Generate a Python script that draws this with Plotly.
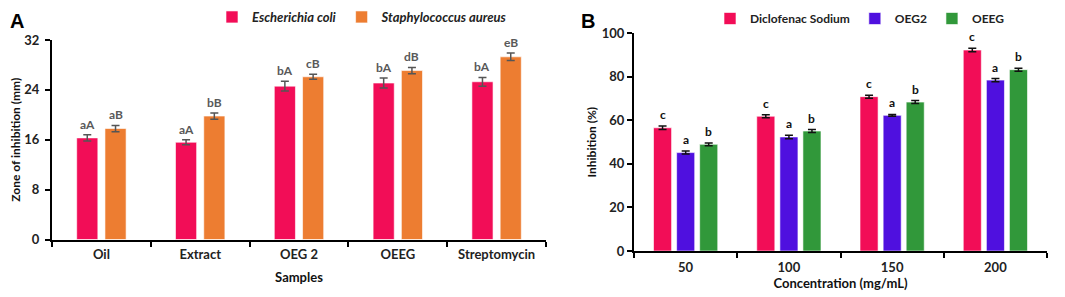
import plotly.graph_objects as go

# ---- Panel A data ----
samples = ["Oil", "Extract", "OEG 2", "OEEG", "Streptomycin"]
ecoli = [16.3, 15.6, 24.6, 25.1, 25.3]
ecoli_err = [0.5, 0.4, 0.8, 0.8, 0.7]
saureus = [17.8, 19.8, 26.1, 27.1, 29.3]
saureus_err = [0.5, 0.5, 0.4, 0.5, 0.6]
ecoli_lbl = ["aA", "aA", "bA", "bA", "bA"]
saureus_lbl = ["aB", "bB", "cB", "dB", "eB"]
a_ticks = [0, 8, 16, 24, 32]

# ---- Panel B data ----
conc = ["50", "100", "150", "200"]
diclo = [56.6, 61.9, 70.9, 92.3]
diclo_err = [0.8, 0.7, 0.7, 0.8]
oeg2 = [45.2, 52.4, 62.3, 78.5]
oeg2_err = [0.7, 0.8, 0.4, 0.7]
oeeg = [49.0, 55.1, 68.4, 83.3]
oeeg_err = [0.6, 0.7, 0.7, 0.7]
b_lbl_diclo = ["c", "c", "c", "c"]
b_lbl_oeg2 = ["a", "a", "a", "a"]
b_lbl_oeeg = ["b", "b", "b", "b"]
b_ticks = [0, 20, 40, 60, 80, 100]

PINK = "#F20D57"
ORANGE = "#ED7D31"
BLUE = "#4F10DF"
GREEN = "#31983A"
FONT = "Lato"
W, H = 1065, 297
OFF = 8  # page body margin in the browser

def px_x(x):
    return (x - OFF) / W

def px_y(y):
    return 1 - (y - OFF) / H

fig = go.Figure()

A_W = 0.214
A_OFF = [-0.25, 0.036]
B_W = 0.175
B_OFF = [-0.311, -0.087, 0.136]

def bar(x, y, err, name, color, off, w, xa, ya, legend, ecolor):
    fig.add_trace(go.Bar(
        x=x, y=y, name=name, offset=off, width=w,
        marker=dict(color=color, line=dict(color="rgba(255,255,255,0.6)", width=1)),
        error_y=dict(type="data", array=err, color=ecolor, thickness=1.5, width=4),
        xaxis=xa, yaxis=ya, legend=legend,
    ))

bar(samples, ecoli, ecoli_err, "<b><i>Escherichia coli</i></b>", PINK, A_OFF[0], A_W, "x", "y", "legend", "#555555")
bar(samples, saureus, saureus_err, "<b><i>Staphylococcus aureus</i></b>", ORANGE, A_OFF[1], A_W, "x", "y", "legend", "#555555")
bar(conc, diclo, diclo_err, "<b>Diclofenac Sodium</b>", PINK, B_OFF[0], B_W, "x2", "y2", "legend2", "#111111")
bar(conc, oeg2, oeg2_err, "<b>OEG2</b>", BLUE, B_OFF[1], B_W, "x2", "y2", "legend2", "#111111")
bar(conc, oeeg, oeeg_err, "<b>OEEG</b>", GREEN, B_OFF[2], B_W, "x2", "y2", "legend2", "#111111")

annotations = []
def labels(vals, errs, lbls, off, w, xref, yref, color, yshift):
    for i, (v, e, t) in enumerate(zip(vals, errs, lbls)):
        annotations.append(dict(
            x=i + off + w / 2, y=v + e, xref=xref, yref=yref, text="<b>%s</b>" % t,
            showarrow=False, yanchor="bottom", yshift=yshift,
            font=dict(family=FONT, size=12, color=color),
        ))

labels(ecoli, ecoli_err, ecoli_lbl, A_OFF[0], A_W, "x", "y", "#595959", 1)
labels(saureus, saureus_err, saureus_lbl, A_OFF[1], A_W, "x", "y", "#595959", 1)
labels(diclo, diclo_err, b_lbl_diclo, B_OFF[0], B_W, "x2", "y2", "#111111", 2)
labels(oeg2, oeg2_err, b_lbl_oeg2, B_OFF[1], B_W, "x2", "y2", "#111111", 2)
labels(oeeg, oeeg_err, b_lbl_oeeg, B_OFF[2], B_W, "x2", "y2", "#111111", 2)

annotations.append(dict(x=px_x(8), y=px_y(8), xref="paper", yref="paper", text="<b>A</b>",
                        showarrow=False, xanchor="left", yanchor="top",
                        font=dict(family="Liberation Sans", size=20, color="black")))
annotations.append(dict(x=px_x(587.5), y=px_y(8), xref="paper", yref="paper", text="<b>B</b>",
                        showarrow=False, xanchor="center", yanchor="top",
                        font=dict(family="Liberation Sans", size=20, color="black")))

tickfont = dict(family=FONT, size=13, color="#222222")
titlefont = dict(family=FONT, size=12, color="#111111")

axis_common = dict(showline=True, linecolor="black", linewidth=2, ticks="outside",
                   ticklen=5, tickwidth=2, tickcolor="black", showgrid=False, zeroline=False,
                   tickfont=tickfont, automargin=False)

fig.update_layout(
    width=W, height=H,
    margin=dict(l=0, r=0, t=0, b=0, autoexpand=False),
    paper_bgcolor="white", plot_bgcolor="white",
    barmode="overlay",
    showlegend=True,
    annotations=annotations,
    xaxis=dict(domain=[px_x(52), px_x(546)], range=[-0.5, 4.5], tickson="boundaries",
               tickvals=samples, ticktext=["<b>%s</b>" % s for s in samples],
               ticklabelstandoff=2,
               title=dict(text="<b>Samples</b>", font=dict(family=FONT, size=13, color="#111111"), standoff=12),
               anchor="y", **axis_common),
    yaxis=dict(domain=[px_y(239.5), px_y(40)], range=[0, 32], tickvals=a_ticks,
               ticktext=["<b>%d</b>" % t for t in a_ticks],
               ticklabelstandoff=3,
               title=dict(text="<b>Zone of inhibition (mm)</b>", font=titlefont, standoff=2),
               anchor="x", **axis_common),
    xaxis2=dict(domain=[px_x(634), px_x(1047)], range=[-0.5, 3.5], tickson="boundaries",
                tickvals=conc, ticktext=["<b>%s</b>" % s for s in conc],
                ticklabelstandoff=3,
                title=dict(text="<b>Concentration (mg/mL)</b>", font=dict(family=FONT, size=13, color="#111111"), standoff=0),
                anchor="y2", **axis_common),
    yaxis2=dict(domain=[px_y(251), px_y(33.3)], range=[0, 100], tickvals=b_ticks,
                ticktext=["<b>%d</b>" % t for t in b_ticks],
                title=dict(text="<b>Inhibition (%)</b>", font=titlefont, standoff=3),
                anchor="x2", **axis_common),
    legend=dict(orientation="h", x=px_x(212), y=px_y(2), xanchor="left", yanchor="top",
                font=dict(family=FONT, size=13, color="#222222"), bgcolor="rgba(0,0,0,0)",
                tracegroupgap=0, itemwidth=30),
    legend2=dict(orientation="h", x=px_x(710), y=px_y(4), xanchor="left", yanchor="top",
                 font=dict(family=FONT, size=12, color="#222222"), bgcolor="rgba(0,0,0,0)",
                 itemwidth=30),
)

fig.write_html("out.html")
